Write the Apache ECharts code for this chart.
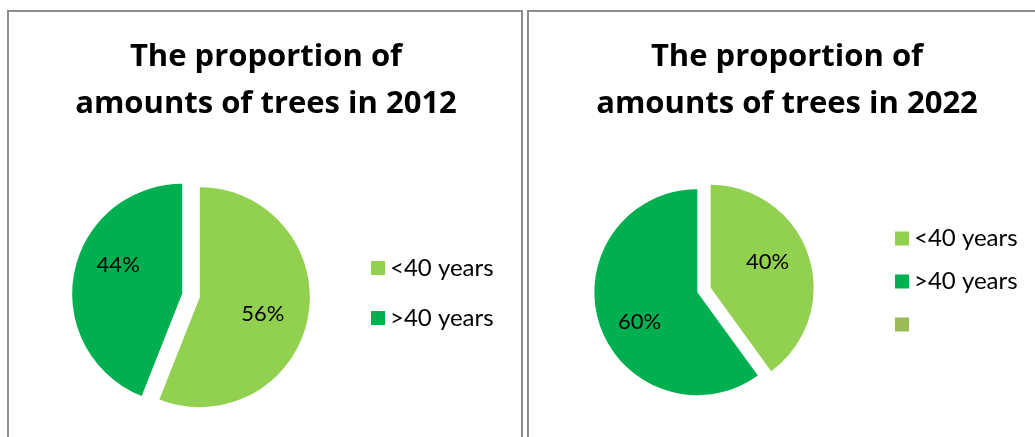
<!DOCTYPE html>
<html>
<head>
<meta charset="utf-8">
<script src="https://cdn.jsdelivr.net/npm/echarts@6/dist/echarts.min.js"></script>
<style>
html,body{margin:0;padding:0;background:#fff;}
#c{width:1035px;height:437px;}
</style>
</head>
<body>
<div id="c"></div>
<script>
const categories = ['<40 years', '>40 years'];
const values2012 = [56, 44];
const values2022 = [40, 60];
const titles = ['The proportion of\namounts of trees in 2012', 'The proportion of\namounts of trees in 2022'];
const colors = ['#92D050', '#00B050', '#9BBB59'];
const blankName = ' ';
// small label nudges (style only) per chart, per slice
const labelNudge = [[[6, 6], [-7, -18]], [[5, -9], [-6, 13]]];

const chart = echarts.init(document.getElementById('c'), null, {renderer: 'canvas'});

function pieData(vals, withBlank) {
  const d = vals.map((v, i) => ({name: categories[i], value: v, selected: true, itemStyle: {color: colors[i]}}));
  if (withBlank) d.push({name: blankName, value: 0, itemStyle: {color: colors[2]}, label: {show: false}});
  return d;
}

const font = 'Lato, "Open Sans", sans-serif';
const titleStyle = {fontFamily: '"Open Sans", Lato, sans-serif', fontWeight: 'bold', fontSize: 31, lineHeight: 47, color: '#000'};
const labelStyle = {show: true, position: 'inside', formatter: '{c}%', fontFamily: font, fontSize: 22, color: '#000'};
const legendText = {fontFamily: font, fontSize: 24, lineHeight: 24, color: '#000'};

function nudge(si) {
  return function (p) {
    const n = labelNudge[si][p.dataIndex];
    return n ? {dx: n[0], dy: n[1]} : {};
  };
}

chart.setOption({
  animation: false,
  graphic: [
    {type: 'rect', shape: {x: 8, y: 11, width: 514, height: 440}, style: {fill: 'none', stroke: '#8c8c8c', lineWidth: 2}, silent: true},
    {type: 'rect', shape: {x: 528, y: 11, width: 520, height: 440}, style: {fill: 'none', stroke: '#8c8c8c', lineWidth: 2}, silent: true}
  ],
  title: [
    {text: titles[0], left: 266, top: 34, textAlign: 'center', padding: 0, textStyle: titleStyle},
    {text: titles[1], left: 787, top: 34, textAlign: 'center', padding: 0, textStyle: titleStyle}
  ],
  legend: [
    {seriesIndex: 0, data: categories, orient: 'vertical', left: 371, top: 256, itemWidth: 14, itemHeight: 14, itemGap: 26, padding: 0, icon: 'rect', selectedMode: false, textStyle: legendText},
    {seriesIndex: 1, data: categories.concat([blankName]), orient: 'vertical', left: 895, top: 226.5, itemWidth: 14, itemHeight: 14, itemGap: 19, padding: 0, icon: 'rect', selectedMode: false, textStyle: legendText}
  ],
  series: [
    {type: 'pie', center: [191, 295.5], radius: 110, startAngle: 90, selectedMode: 'multiple', selectedOffset: 9,
     label: labelStyle, labelLine: {show: false}, labelLayout: nudge(0), emphasis: {disabled: true}, silent: true, data: pieData(values2012, false)},
    {type: 'pie', center: [704, 290], radius: 103, startAngle: 90, selectedMode: 'multiple', selectedOffset: 7,
     label: labelStyle, labelLine: {show: false}, labelLayout: nudge(1), emphasis: {disabled: true}, silent: true, data: pieData(values2022, true)}
  ]
});
</script>
</body>
</html>
